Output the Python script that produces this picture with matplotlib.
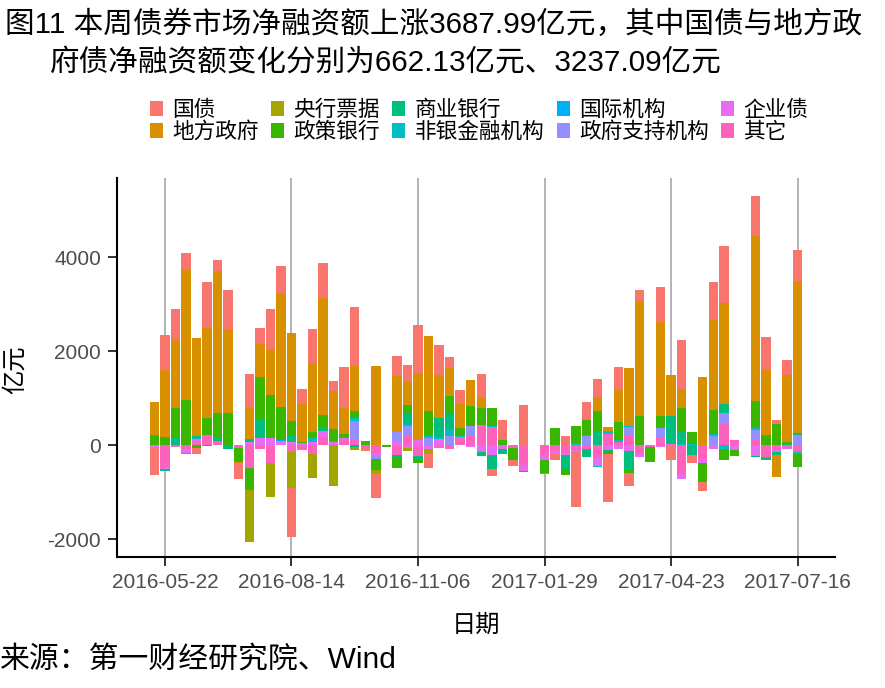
import numpy as np
import pandas as pd
import matplotlib
matplotlib.use("Agg")
import matplotlib.pyplot as plt
import matplotlib.dates as mdates
from matplotlib.patches import Patch

plt.rcParams['font.family'] = ['Liberation Sans', 'Noto Sans CJK SC']
plt.rcParams['axes.unicode_minus'] = False

# ---- data (亿元), weekly, starting 2016-05-15 ----
weeks = pd.date_range('2016-05-15', periods=62, freq='7D')
series_names = ['国债', '地方政府', '央行票据', '政策银行', '商业银行',
                '非银金融机构', '国际机构', '政府支持机构', '企业债', '其它']
colors = ['#F8766D', '#D89000', '#A3A500', '#39B600', '#00BF7D',
          '#00BFC4', '#00B0F6', '#9590FF', '#E76BF3', '#FF62BC']

guozhai = [-588, 737, 659, 362, -128, 971, 234, 830, -347, 723,
           333, 865, 596, -1042, 312, 723, 744, 213, 872, 1255,
           -92, -532, 0, 425, 362, 1021, -298, 645, 234, 298,
           0, 510, -149, 425, -128, 858, 0, 0, -128, 199,
           -1170, 383, 383, -1021, 489, -277, 234, 0, 744, -298,
           1042, -170, -191, 808, 1212, 0, 0, 851, 702, 85,
           319, 662.13]
difang = [702, 1432, 1446, 2765, 2084, 1921, 3020, 1787, -14, 659,
          709, 964, 2404, 1865, 815, 1468, 2489, 808, 553, 957,
          0, 1687, 0, 1191, 489, 1425, 1595, 907, 596, 510,
          553, 213, 0, 0, 0, 0, 0, -21, 0, 0,
          0, 0, 298, 85, 681, 1234, 2446, 0, 1999, 872,
          404, 0, 1453, 1914, 2148, 0, 0, 3510, 1383, -468,
          1425, 3237.09]
yanghang = [0, 0, 0, 0, 0, 0, 0, 0, 0, -1099,
            0, -716, 0, -759, 0, -510, 0, -865, 0, -64,
            0, -64, 0, 0, -64, 0, -106, 0, 0, 0,
            0, 0, 0, 0, 0, 0, 0, 0, 0, 0,
            0, 0, 0, 0, 0, 0, 0, 0, 0, 0,
            0, 0, 0, 0, 0, 0, 0, 0, 0, 0,
            0, 0]
zhengce = [220, 177, 631, 964, -57, 362, 525, 688, -298, -475,
           893, 908, 716, 319, 28, 121, 255, 255, 85, 149,
           92, -234, -35, -220, 170, -78, 532, 0, 383, 170,
           425, 362, 383, 113, -255, 0, 0, -277, 369, -128,
           369, 319, 447, -64, 383, -64, 624, -319, 234, 0,
           489, 255, -404, 510, -234, -128, 0, 574, 220, 454,
           43, -291]
shangye = [0, -28, 163, 0, 43, -14, 71, -71, 0, 57,
           383, 0, 0, 128, 0, 0, 85, 0, 0, -35,
           0, 0, 0, -50, 234, -71, 0, 404, 319, 0,
           0, -85, -291, -106, 0, -21, 0, 0, 0, -298,
           0, -177, 284, -21, 0, -404, 0, 0, 21, 596,
           277, -206, 0, 0, 191, 0, 0, -21, -35, -71,
           28, 43]
feiyin = [0, 0, 0, -28, 28, 0, 0, 0, 0, 0,
          21, 0, 0, 0, 0, 92, 0, 28, 0, 64,
          0, 0, 0, 0, 43, 0, 43, 43, 149, 21,
          0, 0, 21, 0, 0, 0, 0, 0, 0, 0,
          43, 21, -21, 64, 43, 21, 0, 0, 0, 0,
          28, 28, 0, 43, -78, 0, 0, 43, -28, 0,
          0, -28]
guoji = [0, 0, 0, 0, 0, 0, 0, 0, 0, 0,
         0, 0, 14, 0, 0, 0, 0, 0, 0, 0,
         0, 0, 0, 0, 0, 0, 0, 0, 0, 0,
         0, 0, 0, 0, 0, 0, 0, 0, 0, 0,
         0, 0, 0, 0, 0, 0, 0, 0, 0, 0,
         0, 0, 0, 0, 0, 0, 0, 0, 0, 0,
         0, 0]
zhengfu = [0, 0, 0, 0, 0, 0, 0, 0, 0, 0,
           0, 0, 0, 0, 0, 0, 0, 0, 0, 404,
           0, -64, 0, 220, 191, 0, 156, 0, 199, 0,
           191, 0, 0, 0, 0, 0, 0, 0, 0, 0,
           0, 199, 0, 0, 0, 191, 0, 0, 191, 0,
           0, 0, 0, 199, 213, 0, 0, 191, 0, 0,
           0, 213]
qiye = [-43, -50, 0, -71, 43, 0, 0, 0, 0, 78,
        156, 163, 92, 71, 43, 71, 128, 64, 43, 0,
        0, -43, 0, 64, -57, 113, -78, 135, 0, 0,
        -35, -142, -213, -78, 0, -121, 0, -99, -57, -43,
        -43, 0, -170, -99, -78, -121, -64, 0, -35, 28,
        -106, 0, -85, -78, 0, -99, 0, -227, 0, -35,
        -21, 0]
qita = [0, -461, -35, -85, 85, 213, 92, 0, -57, -475,
        -78, -376, 0, -142, -99, -184, 177, 0, 113, 113,
        -28, -184, 0, -213, 220, -227, 0, -57, -78, 177,
        220, 432, 390, 0, -57, -425, 0, -213, -128, -163,
        -99, -71, -269, 241, 71, 199, -184, -35, 177, -14,
        -610, 0, -291, 0, 475, 113, 0, 135, -248, -99,
        -50, -150]

series = [guozhai, difang, yanghang, zhengce, shangye,
          feiyin, guoji, zhengfu, qiye, qita]

# ---- figure ----
W, H = 885, 688
fig = plt.figure(figsize=(W / 100, H / 100), dpi=100)
ax = fig.add_axes([117 / W, (H - 557) / H, 718 / W, 379 / H])

x = mdates.date2num(weeks.to_pydatetime())
bw = 6.3
pos_base = np.zeros(len(x))
neg_base = np.zeros(len(x))
# ggplot stacking: last level at the bottom (nearest zero)
for name, col, vals in reversed(list(zip(series_names, colors, series))):
    v = np.array(vals, dtype=float)
    p = np.where(v > 0, v, 0)
    n = np.where(v < 0, v, 0)
    ax.bar(x, p, width=bw, bottom=pos_base, color=col, linewidth=0, zorder=3)
    ax.bar(x, n, width=bw, bottom=neg_base, color=col, linewidth=0, zorder=3)
    pos_base += p
    neg_base += n

lo, hi = x[0] - bw / 2, x[-1] + bw / 2
r = hi - lo
ax.set_xlim(lo - 0.05 * r, hi + 0.05 * r)
ax.set_ylim(-2377, 5688)

tick_dates = pd.date_range('2016-05-22', periods=6, freq='84D')
ax.set_xticks(mdates.date2num(tick_dates.to_pydatetime()))
ax.set_xticklabels([d.strftime('%Y-%m-%d') for d in tick_dates])
ax.set_yticks([-2000, 0, 2000, 4000])
ax.set_yticklabels(['-2000', '0', '2000', '4000'])

ax.grid(axis='x', color='#B3B3B3', linewidth=1.4, zorder=0)
ax.grid(axis='y', visible=False)
for s in ['top', 'right']:
    ax.spines[s].set_visible(False)
for s in ['left', 'bottom']:
    ax.spines[s].set_color('black')
    ax.spines[s].set_linewidth(1.5)
ax.tick_params(axis='both', colors='#333333', length=6.5, width=1.4,
               labelsize=15, labelcolor='#4D4D4D', pad=5)

ax.set_xlabel('日期', fontsize=17.5, color='black')
ax.xaxis.set_label_coords(0.5, (557 - 626) / 379)
ax.xaxis.label.set_va('center')
ax.set_ylabel('亿元', fontsize=17.5, color='black')
ax.yaxis.set_label_coords((15 - 117) / 718, (557 - 370) / 379)
ax.yaxis.label.set_va('center')

# title
fig.text(5 / W, 1 - 25 / H, '图11 本周债券市场净融资额上涨3687.99亿元，其中国债与地方政',
         fontsize=21.3, va='center', ha='left')
fig.text(50 / W, 1 - 63 / H, '府债净融资额变化分别为662.13亿元、3237.09亿元',
         fontsize=21.3, va='center', ha='left')

# legend
handles = [Patch(facecolor=c, edgecolor='none', label=n) for n, c in zip(series_names, colors)]
fig.legend(handles=handles, ncol=5, loc='upper left',
           bbox_to_anchor=(150 / W, 1 - 100 / H), frameon=False,
           fontsize=15.6, handlelength=0.6, handleheight=0.7,
           handletextpad=0.42, columnspacing=0.58, labelspacing=0.05,
           borderpad=0, borderaxespad=0)

fig.text(0, 1 - 660 / H, '来源：第一财经研究院、Wind', fontsize=21.5,
         va='center', ha='left')

fig.savefig('out.png', dpi=100)
